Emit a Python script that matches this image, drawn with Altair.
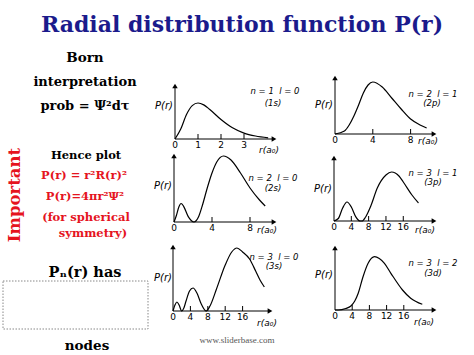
import altair as alt
import pandas as pd

# ---------------- text content ----------------
TITLE = "Radial distribution function P(r)"
LEFT_BLACK = ["Born", "interpretation", "prob = Ψ²dτ"]
HENCE = "Hence plot"
LEFT_RED = ["P(r) = r²R(r)²", "P(r)=4πr²Ψ²", "(for spherical", "symmetry)"]
IMPORTANT = "Important"
NODES_TOP = "Pₙ(r) has"
NODES_BOTTOM = "nodes"
SOURCE = "www.sliderbase.com"
YLAB = "P(r)"
XLAB = "r(a₀)"

# ---------------- curve values (height units) ----------------
r_1s = [0, 0.25, 0.5, 0.75, 1.0, 1.25, 1.5, 2.0, 2.5, 3.0, 3.5, 4.05]
p_1s = [0, 10, 24.5, 33.4, 36, 34.1, 29.8, 19.5, 11.2, 5.9, 3.0, 1.2]

r_2p = [0, 1, 1.5, 2, 2.5, 3, 3.5, 4, 5, 6, 7, 8, 9, 9.7]
p_2p = [0, 3, 9, 18, 29, 41, 49, 52, 47, 36, 25, 15, 9, 6]

r_2s = [0, 0.25, 0.5, 0.75, 1.0, 1.5, 2.1, 2.6, 3.0, 3.5, 4.0, 4.5, 5.2, 6.0, 7.0, 8.0, 9.0, 9.6]
p_2s = [0, 6.5, 14.8, 18.5, 15.9, 5.4, 0, 5.5, 17, 34, 49, 60, 66, 62, 49, 34, 22, 16]

r_3p = [0, 1, 2, 3, 4, 5, 6, 6.5, 7.3, 8.5, 10, 12, 13.3, 15, 16, 18, 19.5]
p_3p = [0, 2.5, 13, 19, 14, 4.4, 0, 0, 4, 15, 33, 46, 49, 45, 39, 26, 18]

r_3s = [0, 0.5, 0.9, 1.4, 2.0, 2.5, 3.0, 3.8, 4.6, 5.5, 6.5, 7.6, 8.5, 10, 12, 13.5, 14.7, 16, 17.6, 19, 20, 21]
p_3s = [0, 6.5, 9, 6, 0, 3, 10, 20, 23, 18, 7, 0, 5, 22, 46, 59, 63, 59, 52, 40, 31, 24]

r_3d = [0, 0.8, 2.5, 3.7, 4.6, 5.4, 6.5, 7.7, 9.2, 10.3, 11.5, 13.0, 15.7, 17.6, 20.3]
p_3d = [0, 0, 1.5, 4, 9, 16.7, 33, 46.7, 53.3, 51.5, 46.7, 36.7, 20, 11.7, 5.7]

ticks_1s, labels_1s = [1, 2, 3], [0, 1, 2, 3]
ticks_2, labels_2 = [4, 8], [0, 4, 8]
ticks_3, labels_3 = [4, 8, 12, 16], [0, 4, 8, 12, 16]

SP = "\u00a0\u00a0"
QN = {
    "1s": ("n = 1" + SP + "l = 0", "(1s)"),
    "2p": ("n = 2" + SP + "l = 1", "(2p)"),
    "2s": ("n = 2" + SP + "l = 0", "(2s)"),
    "3p": ("n = 3" + SP + "l = 1", "(3p)"),
    "3s": ("n = 3" + SP + "l = 0", "(3s)"),
    "3d": ("n = 3" + SP + "l = 2", "(3d)"),
}

SERIF = "DejaVu Serif"
SANS = "DejaVu Sans"
NAVY = "#1b1b8c"
RED = "#e5141e"


def txt(s, x, y, size, color="black", font=SERIF, weight="bold", style="normal",
        align="center", baseline="alphabetic", angle=None):
    kw = dict(x=x, y=y, fontSize=size, color=color, font=font, fontWeight=weight,
              fontStyle=style, align=align, baseline=baseline)
    if angle is not None:
        kw["angle"] = angle
    return alt.Chart(pd.DataFrame({"t": [s]})).mark_text(**kw).encode(text="t:N")


def panel(r, p, ticks, labels, lay, key, tpos):
    x0, y0, pxu, xend, ytop = lay
    rmax = (xend - x0) / pxu
    H = y0 - ytop
    xs = alt.Scale(domain=[0, rmax], range=[x0, xend], nice=False, zero=False)
    ys = alt.Scale(domain=[0, H], range=[y0, ytop], nice=False, zero=False)

    def X(f):
        return alt.X(f, type="quantitative", scale=xs, axis=None)

    def Y(f):
        return alt.Y(f, type="quantitative", scale=ys, axis=None)

    ra = (xend - 3 - x0) / pxu
    ha = H - 3
    curve = alt.Chart(pd.DataFrame({"r": r, "p": p})).mark_line(
        color="black", strokeWidth=1.2, interpolate="monotone").encode(x=X("r"), y=Y("p"))
    adf = pd.DataFrame({"a": [0], "b": [ra], "z": [0], "h": [ha]})
    xaxis = alt.Chart(adf).mark_rule(color="black", strokeWidth=1).encode(
        x=X("a"), x2="b", y=Y("z"))
    yaxis = alt.Chart(adf).mark_rule(color="black", strokeWidth=1).encode(
        x=X("z"), y=Y("z"), y2="h")
    arrx = alt.Chart(adf).mark_point(shape="triangle-right", filled=True, size=30,
                                     color="black", opacity=1).encode(x=X("b"), y=Y("z"))
    arry = alt.Chart(adf).mark_point(shape="triangle-up", filled=True, size=30,
                                     color="black", opacity=1).encode(x=X("z"), y=Y("h"))
    tdf = pd.DataFrame({"t": ticks, "z": [0] * len(ticks), "k": [5] * len(ticks)})
    tk = alt.Chart(tdf).mark_rule(color="black", strokeWidth=1).encode(
        x=X("t"), y=Y("z"), y2="k")
    ldf = pd.DataFrame({"v": labels, "z": [0] * len(labels)})
    lab = alt.Chart(ldf).mark_text(dy=5.5, baseline="middle", fontSize=9, font=SANS,
                                   color="black").encode(
        x=X("v"), y=Y("z"), text=alt.Text("v:Q", format="d"))
    (px, py), (nx, ny), (ox, oy), (rx, ry) = tpos
    t1 = txt(YLAB, px, py, 10, font=SANS, weight="normal", style="italic",
             align="right", baseline="middle")
    t2 = txt(QN[key][0], nx, ny, 8.5, font=SANS, weight="normal", style="italic",
             baseline="middle")
    t3 = txt(QN[key][1], ox, oy, 8.5, font=SANS, weight="normal", style="italic",
             baseline="middle")
    t4 = txt(XLAB, rx, ry, 9, font=SANS, weight="normal", style="italic",
             baseline="middle")
    return alt.layer(curve, xaxis, yaxis, arrx, arry, tk, lab, t1, t2, t3, t4)


panels = [
    panel(r_1s, p_1s, ticks_1s, labels_1s, (175, 139, 23.0, 277, 83), "1s",
          ((173, 106), (275, 91), (273, 103), (269, 150))),
    panel(r_2p, p_2p, ticks_2, labels_2, (335, 134, 9.45, 437, 75), "2p",
          ((333, 105), (433, 94), (432, 103), (428, 141))),
    panel(r_2s, p_2s, ticks_2, labels_2, (174, 222, 9.5, 277, 153), "2s",
          ((172, 186), (273, 178), (273, 188), (267, 230))),
    panel(r_3p, p_3p, ticks_3, labels_3, (334, 221, 4.33, 437, 155), "3p",
          ((332, 189), (433, 173), (433, 182), (425, 230))),
    panel(r_3s, p_3s, ticks_3, labels_3, (173, 311, 4.35, 273, 244), "3s",
          ((172, 278), (274, 257), (274, 266), (267, 323))),
    panel(r_3d, p_3d, ticks_3, labels_3, (335, 310, 4.3, 437, 245), "3d",
          ((333, 275), (433, 263), (433, 273), (424, 322))),
]

texts = [
    txt(TITLE, 242, 32, 22, color=NAVY),
    txt(LEFT_BLACK[0], 85, 62, 13.5),
    txt(LEFT_BLACK[1], 85, 86, 13),
    txt(LEFT_BLACK[2], 85, 110, 13),
    txt(HENCE, 86, 159, 11.5),
    txt(LEFT_RED[0], 84, 179, 11.5, color=RED),
    txt(LEFT_RED[1], 85, 200, 11.5, color=RED),
    txt(LEFT_RED[2], 86, 221, 11.5, color=RED),
    txt(LEFT_RED[3], 93, 237, 11.5, color=RED),
    txt(IMPORTANT, 15, 195, 16.5, color=RED, baseline="middle", angle=270),
    txt(NODES_TOP, 85, 277, 14.5),
    txt(NODES_BOTTOM, 87, 350, 13.5),
    txt(SOURCE, 237, 340, 9, color="#555555", font="Liberation Serif", weight="normal",
        baseline="middle"),
]

box = alt.Chart(pd.DataFrame({"t": [""]})).mark_rect(
    fill=None, stroke="#888888", strokeDash=[1.5, 1.5], strokeWidth=1
).encode(x=alt.value(3), x2=alt.value(148), y=alt.value(281), y2=alt.value(329))

chart = alt.layer(*panels, box, *texts).resolve_scale(
    x="independent", y="independent"
).properties(
    width=474, height=355, padding=0, autosize=alt.AutoSizeParams(type="none")
).configure_view(stroke=None)

chart.save("out.html", embed_options={"renderer": "svg", "actions": False})
